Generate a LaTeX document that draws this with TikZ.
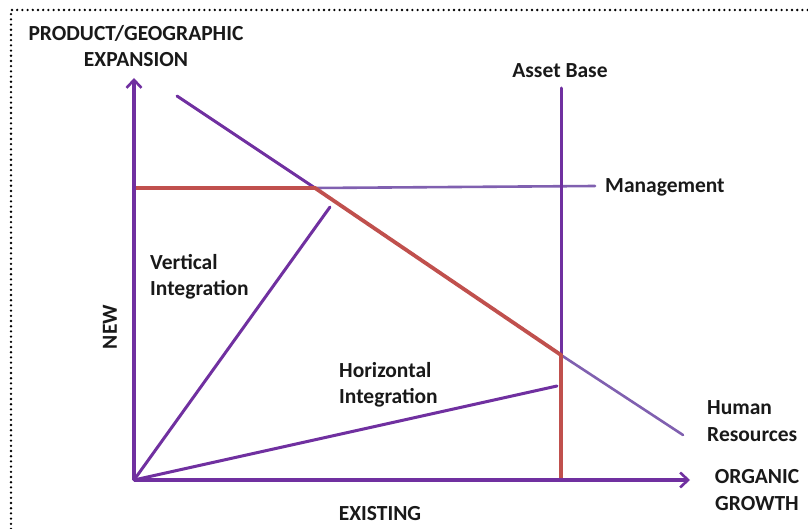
\documentclass[tikz,border=0pt]{standalone}
\usepackage{fontspec}
\setmainfont{Carlito}
\usetikzlibrary{arrows.meta}
\definecolor{axispurple}{HTML}{7030A0}
\definecolor{softpurple}{HTML}{8060B0}
\definecolor{limitred}{HTML}{C0504D}
\begin{document}
\begin{tikzpicture}[x=1pt,y=-1pt,
  axis/.style={draw=axispurple,line width=3.2pt,
    -{Straight Barb[length=8pt,width=15pt,line width=2.6pt]}},
  ray/.style={draw=axispurple,line width=3pt,line cap=round},
  thinray/.style={draw=softpurple,line width=2.6pt,line cap=round},
  limit/.style={draw=limitred,line width=3.8pt},
  lbl/.style={inner sep=0pt,font=\bfseries\fontsize{21.5}{26.5}\selectfont,text=black!90},
  frame/.style={draw=black,line width=2.6pt,line cap=round,dash pattern=on 0pt off 5.2pt}]
\useasboundingbox (0,0) rectangle (808,529);

% dotted frame (top and left edges)
\draw[frame] (11,529) -- (11,10) -- (808,10);

% key points
\coordinate (O) at (134,480);
\coordinate (ytip) at (134,78);
\coordinate (xtip) at (690,480);
\coordinate (mgL) at (134,188);
\coordinate (M) at (315,188);
\coordinate (mgR) at (595,186);
\coordinate (hrA) at (177,96);
\coordinate (A) at (561,355);
\coordinate (hrB) at (683,435);
\coordinate (abTop) at (561,88);
\coordinate (abBot) at (561,481);
\coordinate (vi) at (330,207);
\coordinate (hi) at (557,386);

% constraint lines
\draw[thinray] (M) -- (mgR);
\draw[thinray] (A) -- (hrB);
\draw[ray] (hrA) -- (M);
\draw[ray] (abTop) -- (A);

% growth paths
\draw[ray] (O) -- (vi);
\draw[ray] (O) -- (hi);

% feasible boundary
\draw[limit] (mgL) -- (M) -- (A) -- (abBot);

% axes
\draw[axis] (O) -- (ytip);
\draw[axis] (O) -- (xtip);

% labels
\node[lbl,align=center] (ylab) at (136,46) {PRODUCT/GEOGRAPHIC\\EXPANSION};
\node[lbl] (ablab) at (560,71) {Asset Base};
\node[lbl,anchor=west] (mglab) at (605,187) {Management};
\node[lbl,anchor=west,align=left] (vilab) at (150,277) {Vertical\\Integration};
\node[lbl,anchor=west,align=left] (hilab) at (339,385) {Horizontal\\Integration};
\node[lbl,anchor=west,align=left] (hrlab) at (707,421) {Human\\Resources};
\node[lbl,align=center] (xlab) at (757,490) {ORGANIC\\GROWTH};
\node[lbl] (exlab) at (380,514) {EXISTING};
\node[lbl,rotate=90] (newlab) at (110,327) {NEW};
\end{tikzpicture}
\end{document}
